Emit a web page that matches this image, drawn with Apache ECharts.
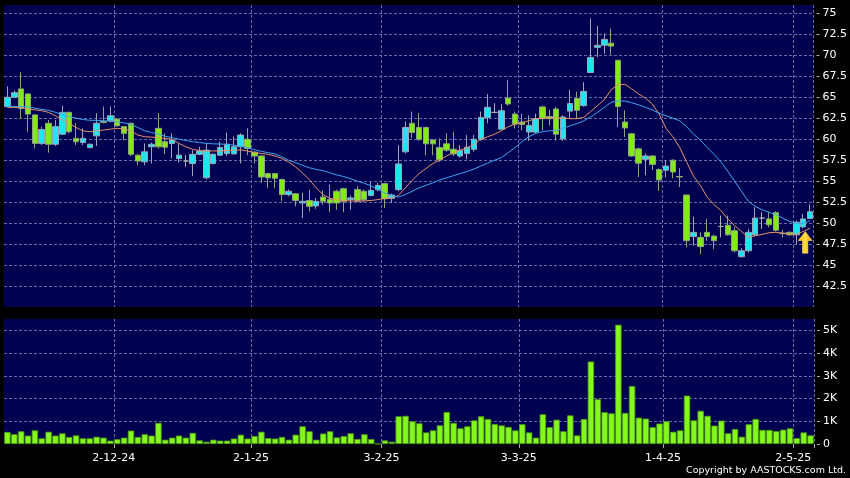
<!DOCTYPE html>
<html><head><meta charset="utf-8">
<script src="https://cdn.jsdelivr.net/npm/echarts@6/dist/echarts.min.js"></script>
<style>html,body{margin:0;padding:0;background:#000}#c{width:850px;height:478px}</style>
</head><body><div id="c"></div>
<script>
const dates = ['8-11-24','11-11-24','12-11-24','13-11-24','14-11-24','15-11-24','18-11-24','19-11-24','20-11-24','21-11-24','22-11-24','25-11-24','26-11-24','27-11-24','28-11-24','29-11-24',
'2-12-24','3-12-24','4-12-24','5-12-24','6-12-24','9-12-24','10-12-24','11-12-24','12-12-24','13-12-24','16-12-24','17-12-24','18-12-24','19-12-24','20-12-24','23-12-24','24-12-24','27-12-24','30-12-24','31-12-24',
'2-1-25','3-1-25','6-1-25','7-1-25','8-1-25','9-1-25','10-1-25','13-1-25','14-1-25','15-1-25','16-1-25','17-1-25','20-1-25','21-1-25','22-1-25','23-1-25','24-1-25','27-1-25','28-1-25',
'3-2-25','4-2-25','5-2-25','6-2-25','7-2-25','10-2-25','11-2-25','12-2-25','13-2-25','14-2-25','17-2-25','18-2-25','19-2-25','20-2-25','21-2-25','24-2-25','25-2-25','26-2-25','27-2-25','28-2-25',
'3-3-25','4-3-25','5-3-25','6-3-25','7-3-25','10-3-25','11-3-25','12-3-25','13-3-25','14-3-25','17-3-25','18-3-25','19-3-25','20-3-25','21-3-25','24-3-25','25-3-25','26-3-25','27-3-25','28-3-25','31-3-25',
'1-4-25','2-4-25','3-4-25','7-4-25','8-4-25','9-4-25','10-4-25','11-4-25','14-4-25','15-4-25','16-4-25','17-4-25','22-4-25','23-4-25','24-4-25','25-4-25','28-4-25','29-4-25','30-4-25',
'2-5-25','6-5-25','7-5-25'];

const tickLabels = ['2-12-24','2-1-25','3-2-25','3-3-25','1-4-25','2-5-25'];

const open = [63.9,65.0,66.0,65.4,62.9,59.5,61.9,59.4,60.6,63.2,
60.1,59.6,59.0,60.4,62.1,62.2,62.4,61.5,61.9,58.1,
57.3,59.1,61.3,59.7,59.5,57.7,57.4,57.1,58.2,55.4,
57.1,58.1,58.3,58.25,59.1,60.0,58.45,58.0,55.9,55.9,
55.2,53.4,53.5,52.4,52.7,52.05,53.1,52.8,53.8,54.1,
52.8,54.0,53.8,53.3,54.0,54.7,52.95,54.0,58.5,61.9,
61.4,61.4,59.9,59.0,59.45,58.8,58.0,58.3,58.8,60.0,
62.6,63.2,61.2,64.9,63.0,62.05,60.85,60.85,63.85,62.7,
63.6,60.05,63.35,64.85,64.0,67.95,70.95,71.2,71.45,69.4,
62.05,60.65,58.85,57.6,58.0,56.4,56.3,57.5,55.55,53.35,
48.4,48.3,48.9,48.45,49.6,49.75,49.1,46.0,46.7,48.6,
50.6,50.5,51.25,48.8,48.9,48.6,49.55,50.55];

const close = [65.0,65.55,63.65,63.0,59.5,61.15,59.4,61.5,63.2,60.9,
59.7,60.1,59.4,61.9,62.0,62.8,61.6,60.7,58.2,57.4,
58.5,59.4,59.1,59.05,59.9,58.1,57.4,58.2,58.6,58.7,
58.2,59.0,59.4,59.1,60.5,58.9,58.0,55.5,55.4,55.35,
53.4,53.8,52.7,52.6,52.0,52.6,52.6,52.4,52.4,52.6,
53.0,52.7,52.8,53.9,54.5,52.9,53.35,57.05,61.4,60.8,
60.0,59.45,59.45,57.55,58.7,58.25,58.65,59.05,60.0,62.6,
63.8,63.2,63.4,64.2,61.8,61.75,61.65,62.45,62.45,62.45,
60.6,62.65,64.25,63.45,65.7,69.75,71.2,71.9,71.1,63.9,
61.35,58.0,57.15,58.0,57.0,55.15,56.8,56.1,55.5,47.9,
48.9,47.2,48.4,47.9,49.6,48.6,46.7,46.7,48.9,50.6,
50.6,49.8,49.15,48.75,48.6,50.1,50.5,51.35];

const low = [63.8,64.9,62.5,60.9,58.9,59.3,58.4,59.2,60.5,60.7,
59.3,59.3,58.9,59.2,61.9,62.0,61.5,59.9,58.0,56.9,
56.9,57.1,58.9,58.2,57.7,57.2,56.7,55.6,58.1,55.2,
57.0,58.0,58.0,58.2,57.1,58.1,57.1,54.8,54.2,54.2,
52.6,53.2,52.0,50.6,51.4,51.7,52.2,51.3,51.6,51.3,
51.6,52.5,52.5,53.2,53.8,51.8,52.4,53.8,58.3,60.1,
59.8,58.1,58.1,57.3,58.5,58.0,57.8,57.6,58.5,59.8,
61.9,63.1,61.1,64.0,61.3,61.05,59.8,60.7,61.05,61.65,
59.85,59.8,62.45,62.45,63.9,67.9,69.8,70.2,70.1,61.45,
60.25,57.9,55.5,55.7,56.3,53.85,55.45,55.35,54.3,47.1,
47.3,46.3,47.9,46.9,48.3,48.5,46.5,45.9,46.5,48.4,
49.3,49.5,49.0,48.3,48.5,47.5,49.4,50.5];

const high = [66.3,65.8,68.0,65.5,63.0,61.5,62.3,62.3,64.0,63.3,
61.9,61.3,59.5,63.1,63.9,63.9,62.5,61.6,62.0,58.2,
59.5,59.6,63.1,60.7,60.7,59.5,58.1,58.7,59.1,59.5,
58.3,59.7,60.8,60.3,60.7,61.3,58.6,58.1,56.0,56.0,
55.3,54.0,53.6,53.6,54.0,53.0,53.9,54.6,54.0,54.2,
53.3,54.4,54.0,54.9,54.8,54.8,53.5,59.3,62.1,63.3,
63.1,61.5,60.0,60.1,60.7,60.9,59.3,60.5,60.5,63.3,
65.4,64.3,64.2,67.1,63.3,63.05,62.85,63.05,64.0,63.5,
63.85,62.85,65.9,65.65,66.8,74.4,73.5,72.6,73.2,69.5,
63.45,60.7,59.0,58.3,58.1,56.5,57.5,57.6,56.55,53.4,
50.75,48.9,50.5,48.6,50.9,50.9,49.5,47.0,49.3,51.9,
51.3,51.3,51.4,49.2,49.0,50.3,51.1,52.25];

const maShort = [63.8,63.8,63.8,63.6,63.5,63.4,63.2,62.8,62.3,61.9,
61.4,61.0,60.9,61.0,61.1,61.2,61.3,61.2,61.0,60.5,
60.3,60.25,60.2,60.1,60.0,59.5,59.1,58.8,58.65,58.6,
58.6,58.6,58.65,58.7,58.73,58.6,58.4,58.3,58.2,58.0,
57.7,57.3,56.7,56.0,55.2,54.2,53.4,52.95,52.8,52.7,
52.65,52.6,52.65,52.7,52.8,52.95,53.0,53.3,54.2,55.1,
55.9,56.5,57.1,57.5,58.0,58.4,58.7,58.95,59.4,60.0,
60.3,60.6,61.0,61.5,61.8,61.95,62.2,62.45,62.5,62.55,
62.55,62.5,62.45,62.45,62.6,63.3,64.0,64.7,65.9,66.5,
66.55,66.0,65.4,64.9,64.2,63.0,61.3,60.3,59.0,57.3,
55.6,54.5,53.1,52.2,51.5,50.5,49.7,49.0,48.3,48.5,
48.65,48.85,48.9,48.8,48.7,48.7,49.0,49.4];

const maLong = [63.93,63.9,63.9,63.85,63.7,63.55,63.45,63.2,62.95,62.7,
62.5,62.35,62.26,62.25,62.2,62.15,62.06,61.95,61.75,61.4,
61.0,60.8,60.6,60.35,60.2,60.0,59.85,59.7,59.6,59.5,
59.45,59.42,59.4,59.3,59.15,59.0,58.75,58.55,58.4,58.25,
57.9,57.5,57.2,56.9,56.6,56.4,56.25,56.0,55.75,55.55,
55.3,55.0,54.75,54.45,54.0,53.6,53.3,53.1,53.4,53.8,
54.2,54.5,54.8,55.15,55.4,55.65,55.9,56.15,56.45,56.8,
57.15,57.5,57.8,58.4,59.0,59.7,60.3,60.7,60.9,61.0,
61.05,61.3,61.6,61.85,62.2,62.65,63.2,63.8,64.4,64.56,
64.56,64.35,64.1,63.8,63.5,63.1,62.8,62.5,62.2,61.5,
60.6,59.9,59.0,58.2,57.3,56.2,55.0,53.8,52.6,52.0,
51.6,51.3,51.0,50.6,50.2,49.95,49.95,50.3];

const volume = [530,430,560,370,600,250,540,370,470,310,
380,250,250,320,280,150,210,280,590,310,
430,370,930,190,280,370,280,490,160,100,
190,150,150,240,410,240,350,540,260,240,
310,190,410,780,560,190,460,560,290,350,
470,220,430,220,10,160,100,1220,1240,1000,
910,510,600,820,1410,930,690,780,1040,1220,
1100,880,820,750,600,870,510,280,1310,740,
1070,560,1260,380,1100,3630,1970,1400,1350,5250,
1370,2550,1160,1120,740,900,1000,540,600,2130,
1040,1460,1240,810,1030,470,660,320,870,1100,
620,620,570,630,690,260,510,380];

const signal = { date: '6-5-25', price: 47.7 };

const chart = echarts.init(document.getElementById('c'));
const gridBg = '#000050';
const gridLine = { show: true, lineStyle: { color: '#6a6aa2', type: [3, 2], width: 1 } };
const labelFont = { color: '#ffffff', fontSize: 11, fontFamily: 'DejaVu Sans' };
const isTick = (i, v) => tickLabels.indexOf(v) >= 0;

chart.setOption({
  backgroundColor: '#000000',
  animation: false,
  grid: [
    { left: 4, top: 5, width: 810, height: 302, show: true, backgroundColor: gridBg, borderWidth: 0 },
    { left: 4, top: 319, width: 810, height: 125, show: true, backgroundColor: gridBg, borderWidth: 0 }
  ],
  xAxis: [
    { type: 'category', gridIndex: 0, data: dates, boundaryGap: true,
      axisLine: { show: false }, axisTick: { show: false }, axisLabel: { show: false },
      splitLine: Object.assign({ interval: isTick }, gridLine) },
    { type: 'category', gridIndex: 1, data: dates, boundaryGap: true, offset: 2,
      axisLine: { show: false },
      axisTick: { show: true, interval: isTick, length: 4, lineStyle: { color: '#aaaaaa' } },
      axisLabel: Object.assign({ interval: isTick, margin: 7, padding: [0, 7, 0, 0] }, labelFont),
      splitLine: Object.assign({ interval: isTick }, gridLine) }
  ],
  yAxis: [
    { type: 'value', gridIndex: 0, position: 'right', min: 40, max: 76, interval: 2.5, offset: 3,
      axisLine: { show: false },
      axisTick: { show: true, length: 3, lineStyle: { color: '#aaaaaa' } },
      axisLabel: Object.assign({ margin: 6, showMaxLabel: false, showMinLabel: false,
        formatter: v => (v % 2.5 === 0 && v > 40 && v < 76) ? String(v) : '' }, labelFont),
      splitLine: Object.assign({ showMinLine: false, showMaxLine: false }, gridLine) },
    { type: 'value', gridIndex: 1, position: 'right', min: 0, max: 5500, interval: 1000, offset: 3,
      axisLine: { show: false },
      axisTick: { show: true, length: 3, lineStyle: { color: '#aaaaaa' } },
      axisLabel: Object.assign({ margin: 6, showMaxLabel: false,
        formatter: v => v === 0 ? '0' : (v % 1000 === 0 ? (v / 1000) + 'K' : '') }, labelFont),
      splitLine: Object.assign({ showMinLine: false, showMaxLine: false }, gridLine) }
  ],
  series: [
    { type: 'candlestick', xAxisIndex: 0, yAxisIndex: 0, barWidth: 6,
      data: dates.map((d, i) => [open[i], close[i], low[i], high[i]]),
      itemStyle: { color: '#1ee4f4', color0: '#82ea14', borderColor: '#9aa6b4', borderColor0: '#8ea67a',
        borderColorDoji: '#b0b0b0', borderWidth: 1 },
      markPoint: {
        silent: true,
        data: [{
          coord: [signal.date, signal.price],
          symbol: 'path://M6,0 L12,8 L8.5,8 L8.5,20 L3.5,20 L3.5,8 L0,8 Z',
          symbolSize: [13, 21], symbolOffset: [2, 0],
          itemStyle: { color: { type: 'linear', x: 0, y: 0, x2: 1, y2: 0,
            colorStops: [{ offset: 0, color: '#f0a800' }, { offset: 0.5, color: '#ffe040' }, { offset: 1, color: '#e89400' }] },
            borderColor: '#ffd24a', borderWidth: 0.8 },
          label: { show: false }
        }]
      }
    },
    { type: 'line', xAxisIndex: 0, yAxisIndex: 0, data: maShort, symbol: 'none', z: 3,
      lineStyle: { color: '#e8946a', width: 1 } },
    { type: 'line', xAxisIndex: 0, yAxisIndex: 0, data: maLong, symbol: 'none', z: 3,
      lineStyle: { color: '#3ea6ee', width: 1 } },
    { type: 'bar', xAxisIndex: 1, yAxisIndex: 1, data: volume, barWidth: 6.4,
      itemStyle: { color: '#84f81e', borderColor: '#4e9a10', borderWidth: 0.8 } }
  ],
  graphic: [{
    type: 'text', right: 4, top: 466,
    style: { text: 'Copyright by AASTOCKS.com Ltd.', fill: '#ffffff', fontSize: 9.5, fontFamily: 'DejaVu Sans' }
  }]
});
</script>
</body></html>
